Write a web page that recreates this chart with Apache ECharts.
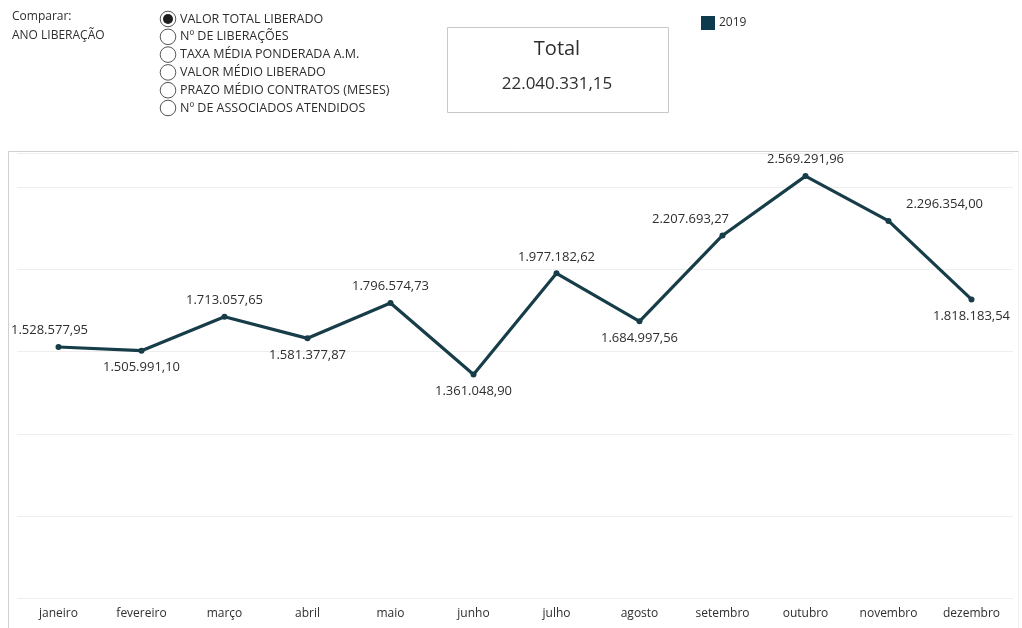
<!DOCTYPE html>
<html>
<head>
<meta charset="utf-8">
<script src="https://cdn.jsdelivr.net/npm/echarts@6/dist/echarts.min.js"></script>
<style>
html,body{margin:0;padding:0;background:#fff;}
#chart{width:1022px;height:628px;}
</style>
</head>
<body>
<div id="chart"></div>
<script>
const months = ['janeiro','fevereiro','março','abril','maio','junho','julho','agosto','setembro','outubro','novembro','dezembro'];
const values2019 = [1528577.95,1505991.10,1713057.65,1581377.87,1796574.73,1361048.90,1977182.62,1684997.56,2207693.27,2569291.96,2296354.00,1818183.54];
const seriesName = '2019';
const totalValue = 22040331.15;
const compareOptions = ['VALOR TOTAL LIBERADO','Nº DE LIBERAÇÕES','TAXA MÉDIA PONDERADA A.M.','VALOR MÉDIO LIBERADO','PRAZO MÉDIO CONTRATOS (MESES)','Nº DE ASSOCIADOS ATENDIDOS'];

// label placement styling (not data)
const labelPlacement = [
  {position:'top', offset:[-9,0]},
  {position:'bottom', offset:[0,0]},
  {position:'top', offset:[0,0]},
  {position:'bottom', offset:[0,0]},
  {position:'top', offset:[0,0]},
  {position:'bottom', offset:[0,0]},
  {position:'top', offset:[0,0]},
  {position:'bottom', offset:[0,0]},
  {position:'top', offset:[-32,0]},
  {position:'top', offset:[0,0]},
  {position:'top', offset:[56,0]},
  {position:'bottom', offset:[0,0]}
];

function fmtBR(v){
  const parts = v.toFixed(2).split('.');
  const int = parts[0].replace(/\B(?=(\d{3})+(?!\d))/g,'.');
  return int + ',' + parts[1];
}

const FONT = '"Open Sans", "Noto Sans", sans-serif';
const TXT = '#2e2e2e';
const LINE = '#173d49';

const chart = echarts.init(document.getElementById('chart'));

const graphics = [];
graphics.push({type:'text', left:12, top:11, style:{text:'Comparar:', font:'12px '+FONT, fill:TXT}});
graphics.push({type:'text', left:12, top:30, style:{text:'ANO LIBERAÇÃO', font:'12px '+FONT, fill:TXT}});
compareOptions.forEach((t,i)=>{
  const cy = 19 + i*17.8;
  graphics.push({type:'circle', shape:{cx:168, cy:cy, r:7.8}, style:{fill:'#fff', stroke:'#555', lineWidth:1}});
  if(i===0){
    graphics.push({type:'circle', shape:{cx:168, cy:cy, r:5}, style:{fill:'#1e1e1e'}});
  }
  graphics.push({type:'text', x:180, y:cy, style:{text:t, font:'12.5px '+FONT, fill:TXT, verticalAlign:'middle'}});
});
// Total box
graphics.push({type:'rect', shape:{x:447.5, y:27.5, width:221, height:85}, style:{fill:'#fff', stroke:'#c8c8c8', lineWidth:1}});
graphics.push({type:'text', x:557, y:49, style:{text:'Total', font:'20px '+FONT, fill:TXT, align:'center', verticalAlign:'middle'}});
graphics.push({type:'text', x:557, y:84, style:{text:fmtBR(totalValue), font:'17px '+FONT, fill:TXT, align:'center', verticalAlign:'middle'}});
// chart frame
graphics.push({type:'line', shape:{x1:8.5, y1:151.5, x2:1019, y2:151.5}, style:{stroke:'#d0d0d0', lineWidth:1}});
graphics.push({type:'line', shape:{x1:8.5, y1:151.5, x2:8.5, y2:628}, style:{stroke:'#d0d0d0', lineWidth:1}});
graphics.push({type:'line', shape:{x1:1018.5, y1:151.5, x2:1018.5, y2:628}, style:{stroke:'#f0f0f0', lineWidth:1}});

const option = {
  backgroundColor:'#ffffff',
  animation:false,
  textStyle:{fontFamily:FONT},
  legend:{
    left:696, top:11, itemWidth:14, itemHeight:14, itemGap:6,
    icon:'rect',
    data:[{name:seriesName, itemStyle:{color:'#0d3a4d'}}],
    textStyle:{fontSize:12, color:TXT, fontFamily:FONT, padding:[0,0,0,-1]}
  },
  grid:{left:17, right:9, top:153, bottom:30},
  xAxis:{
    type:'category', data:months, boundaryGap:true,
    axisLine:{show:false}, axisTick:{show:false},
    axisLabel:{fontSize:12, color:TXT, fontFamily:FONT, margin:10}
  },
  yAxis:{
    type:'value', min:0, max:2710000, interval:500000,
    axisLabel:{show:false}, axisLine:{show:false}, axisTick:{show:false},
    splitLine:{show:true, lineStyle:{color:'#eeeeee', width:1}}
  },
  series:[{
    name:seriesName, type:'line',
    data: values2019.map((v,i)=>({value:v, label:{position:labelPlacement[i].position, offset:labelPlacement[i].offset}})),
    lineStyle:{color:LINE, width:3.2},
    itemStyle:{color:LINE},
    symbol:'circle', symbolSize:6, showAllSymbol:true,
    label:{show:true, fontSize:13, color:TXT, fontFamily:FONT, distance:7, formatter:p=>fmtBR(p.value)}
  }],
  graphic:graphics
};
chart.setOption(option);
</script>
</body>
</html>
